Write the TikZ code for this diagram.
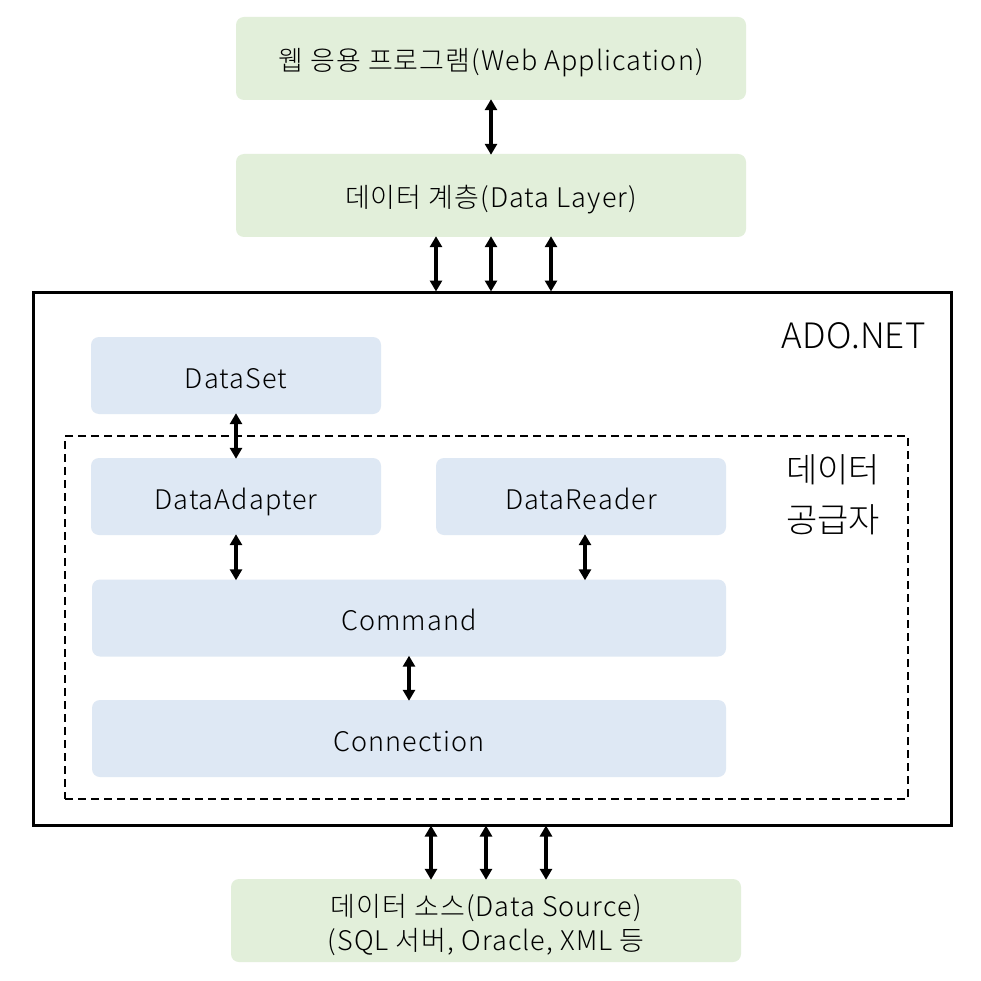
\documentclass[tikz,border=0pt]{standalone}
\usepackage{fontspec}
\setmainfont{Noto Sans CJK KR}[UprightFont=* Light]
\newfontfamily\boxfont{Noto Sans CJK KR}[UprightFont=* Light, LetterSpace=4]
\usetikzlibrary{arrows.meta}
\definecolor{boxgreen}{HTML}{E2EFDA}
\definecolor{boxblue}{HTML}{DEE8F4}
\tikzset{
  greenbox/.style={fill=boxgreen, draw=none, rounded corners=8pt, minimum width=510pt, minimum height=83pt, font=\boxfont\fontsize{27}{31}\selectfont, text height=25pt, text depth=0pt},
  bluebox/.style={fill=boxblue, draw=none, rounded corners=8pt, minimum height=77pt, font=\boxfont\fontsize{27}{31}\selectfont, text height=25pt, text depth=0pt},
  link/.style={line width=3.2pt, {Triangle[width=12pt,length=11pt]}-{Triangle[width=12pt,length=11pt]}, shorten <=-1pt, shorten >=-1pt}
}
\begin{document}
\begin{tikzpicture}[x=1pt,y=-1pt]
\useasboundingbox (0,0) rectangle (980,981);
\fill[white] (0,0) rectangle (980,981);
\node[greenbox] (web) at (491,58.5) {웹 응용 프로그램(Web Application)};
\node[greenbox] (dl) at (491,195.5) {데이터 계층(Data Layer)};
\node[draw, line width=3pt, minimum width=918pt, minimum height=533pt, inner sep=0pt] (ado) at (492,558.5) {};
\node[font=\fontsize{35}{38}\selectfont, anchor=east] (adolabel) at (929,336) {ADO.NET};
\node[draw, dashed, line width=1.5pt, dash pattern=on 8pt off 5pt, minimum width=843pt, minimum height=363pt, inner sep=0pt] (prov) at (486.5,617.5) {};
\node[font=\fontsize{34}{50}\selectfont, align=center] (provlabel) at (833,495) {데이터\\공급자};
\node[bluebox, minimum width=290pt] (ds) at (236,375.5) {DataSet};
\node[bluebox, minimum width=290pt] (da) at (236,496.5) {DataAdapter};
\node[bluebox, minimum width=290pt] (dr) at (581,496.5) {DataReader};
\node[bluebox, minimum width=634pt] (cmd) at (409,618) {Command};
\node[bluebox, minimum width=634pt] (con) at (409,738.5) {Connection};
\node[greenbox] (src) at (486,920.5) {};
\node[font=\boxfont\fontsize{27}{34}\selectfont, align=center] (srctext) at (486,925) {데이터 소스(Data Source)\\(SQL 서버, Oracle, XML 등};
\draw[link] (web.south) -- (dl.north);
\foreach \x in {436,491,551} \draw[link] (dl.south -| \x,0) -- (ado.north -| \x,0);
\draw[link] (ds.south) -- (da.north);
\draw[link] (da.south) -- (cmd.north -| da.south);
\draw[link] (dr.south -| 585,0) -- (cmd.north -| 585,0);
\draw[link] (cmd.south) -- (con.north);
\foreach \x in {431,486,546} \draw[link] (ado.south -| \x,0) -- (src.north -| \x,0);
\end{tikzpicture}
\end{document}
